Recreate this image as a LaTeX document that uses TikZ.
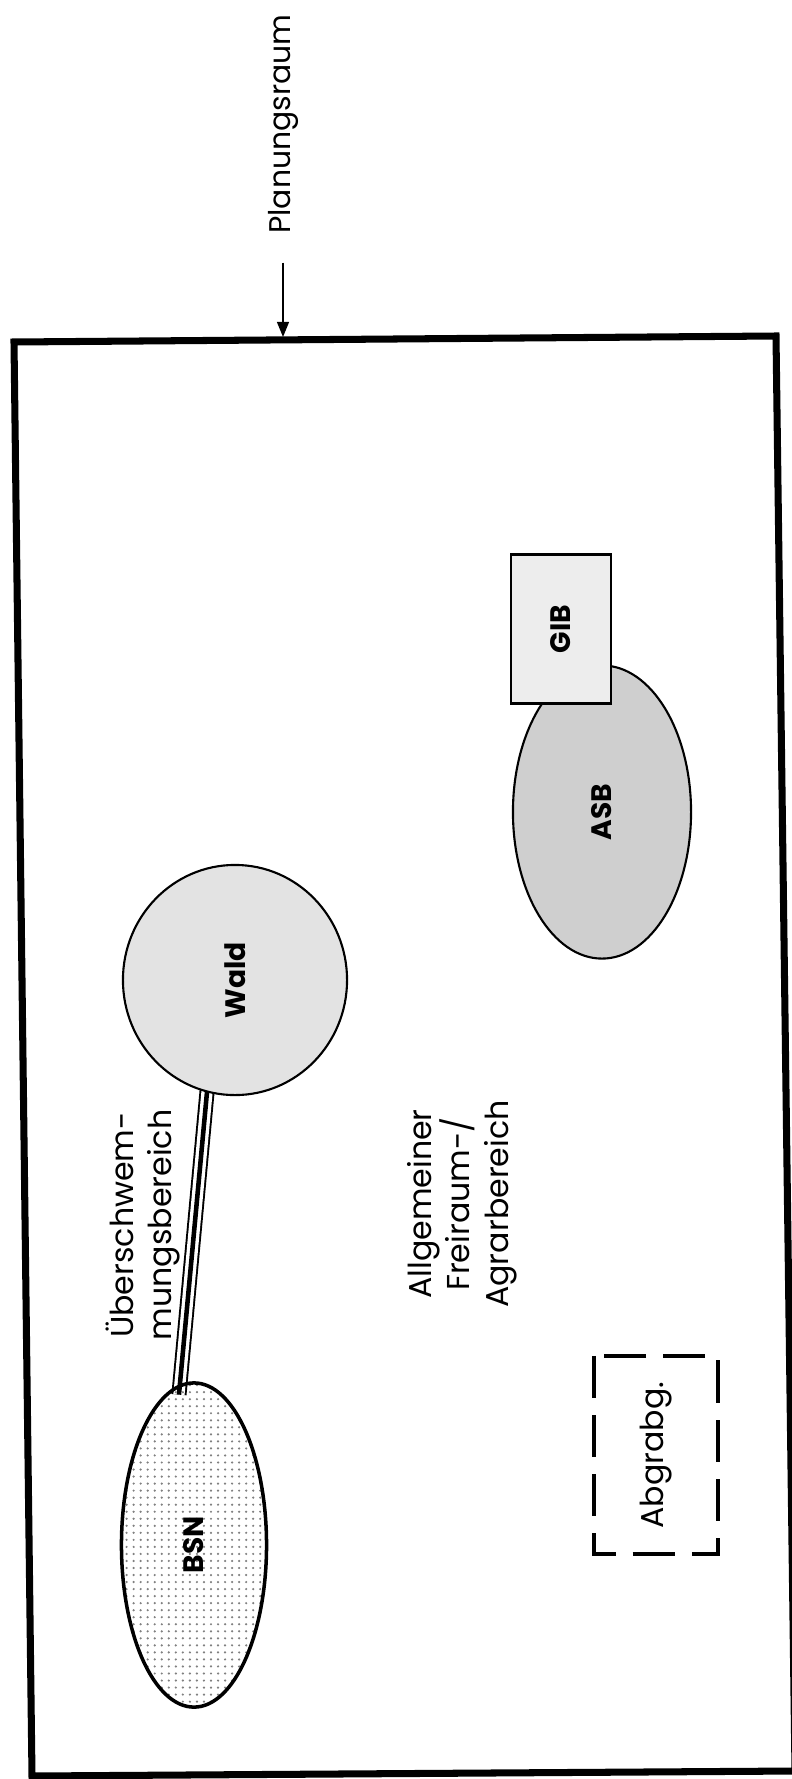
\documentclass[tikz,border=0pt]{standalone}
\usepackage{fontspec}
\setmainfont{Poppins}
\usetikzlibrary{shapes.geometric, arrows.meta, positioning, patterns.meta}
\pgfdeclarelayer{bg}
\pgfsetlayers{bg,main}

\begin{document}
\begin{tikzpicture}[x=0.01cm,y=-0.01cm,>={Triangle[length=4.3pt,width=3.4pt]}]
    \tikzset{
      zone/.style={draw=black, line width=0.6pt, inner sep=0pt, rotate=90,
        font=\fontsize{8}{10}\selectfont\bfseries},
      flat/.style={inner sep=0pt, rotate=90, align=center,
        font=\fontsize{9}{11}\selectfont},
    }
    \useasboundingbox (0,0) rectangle (792,1779);

    % the frame of the planning area (scanned slightly askew)
    \draw[line width=2pt, line join=miter] (14,342) -- (776,336) -- (795,1771) -- (32,1776) -- cycle;

    % label and arrow on top
    \node[flat, font=\fontsize{8.5}{10}\selectfont] (plan) at (283,124) {Planungsraum};
    \coordinate (plantip) at (283,337);
    \draw[->, line width=0.45pt] ([yshift=-8pt]plan.west) -- (plantip);

    % the areas
    \node[zone, ellipse, fill=gray!22, minimum width=2.30cm, minimum height=2.24cm] (wald) at (235,980) {Wald};
    \node[zone, ellipse, line width=1pt, pattern={Dots[distance=2pt, radius=0.35pt]}, pattern color=gray,
      minimum width=3.24cm, minimum height=1.45cm] (bsn) at (194,1545) {BSN};
    \node[zone, ellipse, fill=gray!38, minimum width=2.93cm, minimum height=1.78cm] (asb) at (602,812) {ASB};
    \node[zone, rectangle, fill=gray!14, minimum width=1.49cm, minimum height=1.00cm] (gib) at (561,629) {GIB};
    \node[flat, draw=black, line width=1.15pt, dash pattern=on 12pt off 4.8pt,
      minimum width=1.98cm, minimum height=1.23cm] (abgr) at (656,1455) {Abgrabg.};

    % floodplain band between BSN and Wald
    \begin{pgfonlayer}{bg}
      \foreach \w/\c in {4.3pt/black, 3.2pt/white, 1.3pt/black}
        \draw[line width=\w, \c, shorten <=-3pt, shorten >=-3pt] (wald.166) -- (bsn.5);
    \end{pgfonlayer}

    % free labels
    \node[flat] (ueb) at (143,1225) {Überschwem-\\mungsbereich};
    \node[flat] (frei) at (462,1204) {Allgemeiner\\Freiraum-/\\Agrarbereich};
  \end{tikzpicture}
\end{document}
